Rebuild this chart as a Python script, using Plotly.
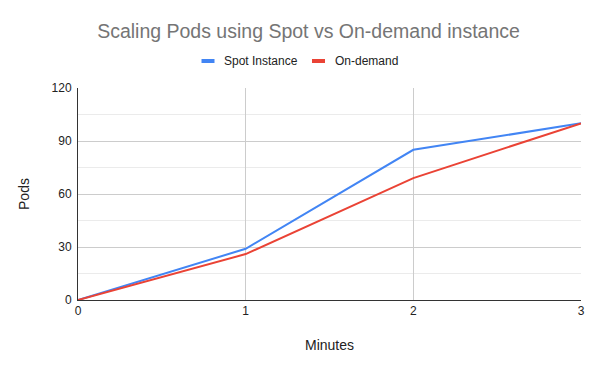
import plotly.graph_objects as go

minutes = [0, 1, 2, 3]
spot_pods = [0, 29, 85, 100]
ondemand_pods = [0, 26, 69, 100]
series_names = ["Spot Instance", "On-demand"]
colors = ["#4285F4", "#EA4335"]

W, H = 600, 371
ML, MR, MT, MB = 78, 19, 88, 71
PW, PH = W - ML - MR, H - MT - MB


def px_x(px):
    return (px - ML) / PW


def px_y(py):
    return (H - MB - py) / PH


fig = go.Figure()
for name, vals, c in zip(series_names, [spot_pods, ondemand_pods], colors):
    fig.add_trace(go.Scatter(x=minutes, y=vals, mode="lines", name=name,
                             line=dict(color=c, width=2), showlegend=False,
                             hoverinfo="x+y+name"))

# custom legend (short bar + label), Google-Sheets style
legend_y = 61
bar_starts = [201.5, 312]
for name, c, bx in zip(series_names, colors, bar_starts):
    fig.add_shape(type="rect", xref="paper", yref="paper",
                  x0=px_x(bx), x1=px_x(bx + 13),
                  y0=px_y(legend_y + 2), y1=px_y(legend_y - 2),
                  fillcolor=c, line=dict(width=0))
    fig.add_annotation(text=name, xref="paper", yref="paper",
                       x=px_x(bx + 20.5), y=px_y(legend_y), xanchor="left",
                       yanchor="middle", showarrow=False,
                       font=dict(size=12, color="#222222"))

fig.update_layout(
    width=W, height=H,
    margin=dict(l=ML, r=MR, t=MT, b=MB),
    paper_bgcolor="white", plot_bgcolor="white",
    font=dict(family="Arial", size=12, color="#222222"),
    title=dict(text="Scaling Pods using Spot vs On-demand instance",
               x=308.5 / W, xanchor="center", y=1 - 31 / H, yref="container",
               yanchor="middle", font=dict(size=19.5, color="#757575")),
    showlegend=False,
)
fig.update_xaxes(range=[0, 3], dtick=1, tick0=0, showgrid=True, gridcolor="#cccccc",
                 gridwidth=1, zeroline=False, showline=True, linecolor="#333333",
                 linewidth=1, ticks="", title=dict(text="Minutes", standoff=22),
                 automargin=False, fixedrange=True)
fig.update_yaxes(range=[0, 120], dtick=30, tick0=0, showgrid=True, gridcolor="#cccccc",
                 zeroline=False, showline=True, linecolor="#333333", linewidth=1,
                 ticks="", ticklabelstandoff=3,
                 minor=dict(dtick=15, showgrid=True, gridcolor="#ebebeb"),
                 title=dict(text="Pods", standoff=18), automargin=False,
                 fixedrange=True)

fig.write_html("out.html", config={"displayModeBar": False},
               post_script="document.body.style.margin='0';document.body.style.overflow='hidden';")
